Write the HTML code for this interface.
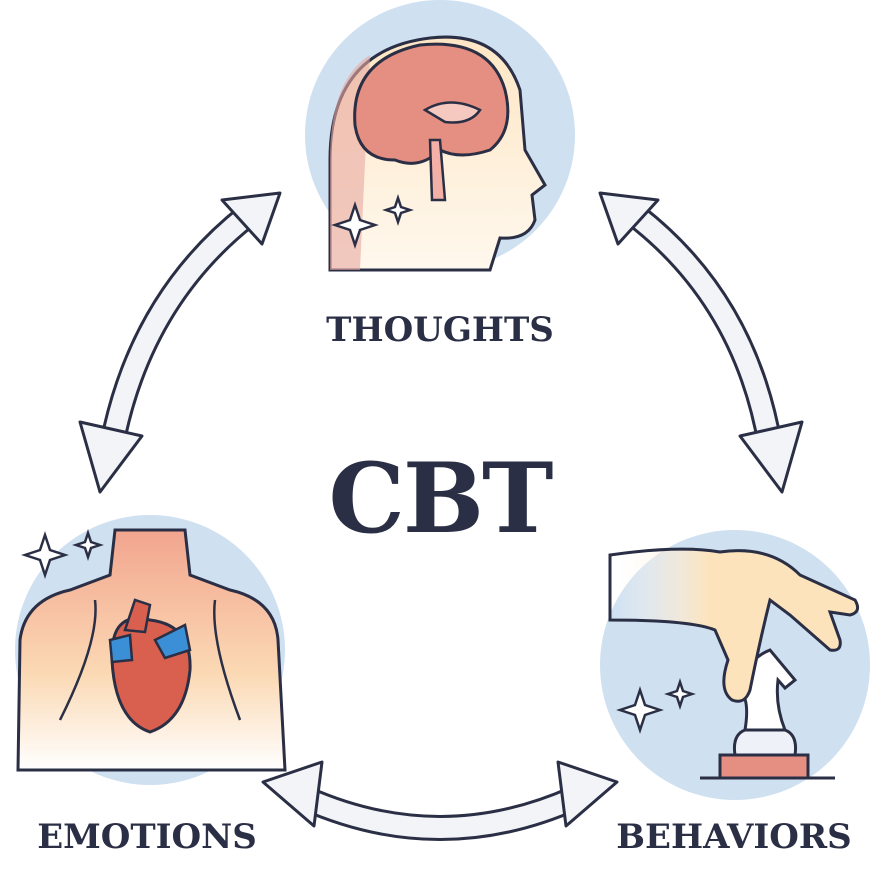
<!DOCTYPE html>
<html><head><meta charset="utf-8"><style>
html,body{margin:0;padding:0;background:#fff}
svg{display:block}
.lbl{font-family:"DejaVu Serif","Liberation Serif",serif;font-weight:bold;fill:#2b2f45}
</style></head><body>
<svg width="887" height="875" viewBox="0 0 887 875" xmlns="http://www.w3.org/2000/svg">
<defs>
<linearGradient id="skin" x1="0" y1="0" x2="0" y2="1">
<stop offset="0" stop-color="#fde6c4"/><stop offset="1" stop-color="#fff8ee"/></linearGradient>
<linearGradient id="torso" x1="0" y1="0" x2="0" y2="1">
<stop offset="0" stop-color="#f2a58e"/><stop offset="0.6" stop-color="#fbd9b4"/><stop offset="1" stop-color="#fff"/></linearGradient>
<linearGradient id="hand" x1="0" y1="0" x2="1" y2="0">
<stop offset="0" stop-color="#fff" stop-opacity="0"/><stop offset="0.4" stop-color="#fde3bc"/><stop offset="1" stop-color="#fde3bc"/></linearGradient>
</defs>

<circle cx="440" cy="135" r="135" fill="#cfe0f1"/>
<circle cx="150" cy="650" r="135" fill="#cfe0f1"/>
<circle cx="735" cy="665" r="135" fill="#cfe0f1"/>

<path d="M330 270 L330 160 Q330 50 430 38 Q500 30 520 90 L525 150 L545 185 L532 195 L535 220 Q528 240 500 238 L490 270 Z" fill="url(#skin)" stroke="#2b2f45" stroke-width="3"/>
<path d="M330 270 L330 160 Q330 80 370 55 L360 270 Z" fill="#e8a8a0" opacity="0.6"/>
<path d="M355 125 Q350 60 420 45 Q490 38 505 90 Q515 130 490 150 Q460 160 440 150 Q420 170 395 160 Q360 160 355 125 Z" fill="#e58f82" stroke="#2b2f45" stroke-width="3"/>
<path d="M425 110 Q450 95 480 110 Q470 125 445 122 Z" fill="#f6c9c0" stroke="#2b2f45" stroke-width="2.5"/>
<path d="M430 140 L432 200 L445 200 L440 140 Z" fill="#f3b0a6" stroke="#2b2f45" stroke-width="2.5"/>
<path d="M355 205 l5 15 l15 5 l-15 5 l-5 15 l-5 -15 l-15 -5 l15 -5 Z" fill="#fff" stroke="#2b2f45" stroke-width="2.5"/>
<path d="M398 198 l3 9 l9 3 l-9 3 l-3 9 l-3 -9 l-9 -3 l9 -3 Z" fill="#fff" stroke="#2b2f45" stroke-width="2.5"/>

<path d="M18 770 L20 640 Q25 600 70 590 L110 575 L115 530 L185 530 L190 575 L230 590 Q275 600 278 640 L285 770 Z" fill="url(#torso)" stroke="#2b2f45" stroke-width="3"/>
<path d="M95 600 Q100 640 60 720" fill="none" stroke="#2b2f45" stroke-width="2.5"/>
<path d="M215 600 Q210 640 240 720" fill="none" stroke="#2b2f45" stroke-width="2.5"/>
<path d="M150 620 Q110 610 112 660 Q115 720 150 732 Q185 720 190 670 Q192 625 150 620 Z" fill="#d9604f" stroke="#2b2f45" stroke-width="3"/>
<path d="M125 630 L135 600 L150 605 L145 632 Z" fill="#d9604f" stroke="#2b2f45" stroke-width="2.5"/>
<path d="M155 640 L185 625 L190 650 L165 658 Z" fill="#3a8fd6" stroke="#2b2f45" stroke-width="2.5"/>
<path d="M110 640 L130 635 L132 660 L112 662 Z" fill="#3a8fd6" stroke="#2b2f45" stroke-width="2.5"/>
<path d="M45 535 l5 15 l15 5 l-15 5 l-5 15 l-5 -15 l-15 -5 l15 -5 Z" fill="#fff" stroke="#2b2f45" stroke-width="2.5"/>
<path d="M88 533 l3 9 l9 3 l-9 3 l-3 9 l-3 -9 l-9 -3 l9 -3 Z" fill="#fff" stroke="#2b2f45" stroke-width="2.5"/>

<path d="M720 755 L808 755 L808 778 L720 778 Z" fill="#e58f82" stroke="#2b2f45" stroke-width="3"/>
<path d="M735 755 Q732 735 745 730 L785 730 Q798 735 795 755 Z" fill="#eef2f8" stroke="#2b2f45" stroke-width="3"/>
<path d="M745 730 Q750 700 740 690 Q745 660 770 650 L795 680 L785 688 L778 680 Q775 705 785 730 Z" fill="#fff" stroke="#2b2f45" stroke-width="3"/>
<line x1="700" y1="778" x2="835" y2="778" stroke="#2b2f45" stroke-width="3"/>
<path d="M610 555 Q680 545 720 552 Q770 545 800 575 L855 600 Q862 612 850 615 L830 612 L840 640 Q842 652 830 650 L790 615 L770 600 Q760 640 750 690 Q745 705 732 700 Q718 690 728 660 L715 630 Q690 620 610 620 Z" fill="url(#hand)" stroke="#2b2f45" stroke-width="3"/>
<path d="M640 690 l5 15 l15 5 l-15 5 l-5 15 l-5 -15 l-15 -5 l15 -5 Z" fill="#fff" stroke="#2b2f45" stroke-width="2.5"/>
<path d="M680 682 l3 9 l9 3 l-9 3 l-3 9 l-3 -9 l-9 -3 l9 -3 Z" fill="#fff" stroke="#2b2f45" stroke-width="2.5"/>

<g fill="none" stroke-linecap="butt">
<path d="M112 445 Q140 300 248 215" stroke="#2b2f45" stroke-width="26"/>
<path d="M112 445 Q140 300 248 215" stroke="#f3f4f7" stroke-width="20"/>
<path d="M635 215 Q745 300 770 445" stroke="#2b2f45" stroke-width="26"/>
<path d="M635 215 Q745 300 770 445" stroke="#f3f4f7" stroke-width="20"/>
<path d="M305 798 Q440 858 575 798" stroke="#2b2f45" stroke-width="26"/>
<path d="M305 798 Q440 858 575 798" stroke="#f3f4f7" stroke-width="20"/>
</g>
<g fill="#f3f4f7" stroke="#2b2f45" stroke-width="3" stroke-linejoin="round">
<polygon points="280,193 222,200 262,244"/>
<polygon points="100,492 80,422 142,436"/>
<polygon points="600,193 658,200 618,244"/>
<polygon points="782,492 802,422 740,436"/>
<polygon points="263,782 322,762 314,826"/>
<polygon points="617,782 558,762 566,826"/>
</g>

<text class="lbl" x="440" y="341" font-size="34" text-anchor="middle">THOUGHTS</text>
<text class="lbl" x="440" y="532" font-size="96" text-anchor="middle" letter-spacing="-2">CBT</text>
<text class="lbl" x="147" y="848" font-size="34" text-anchor="middle">EMOTIONS</text>
<text class="lbl" x="734" y="848" font-size="34" text-anchor="middle">BEHAVIORS</text>
</svg>
</body></html>
